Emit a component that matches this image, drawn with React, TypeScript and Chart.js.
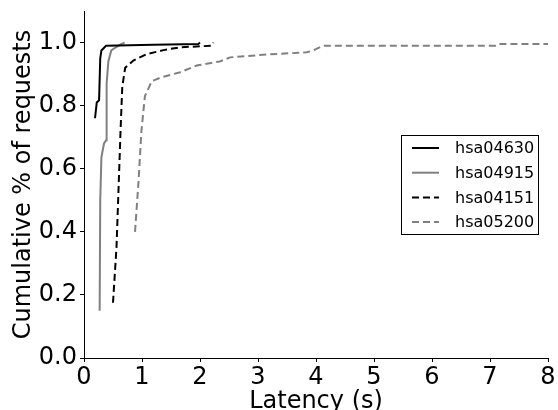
import React, { useEffect, useRef } from "react";
import { Chart, registerables } from "chart.js";

Chart.register(...registerables);

const seriesNames = ["hsa04630", "hsa04915", "hsa04151", "hsa05200"];

const hsa04630X = [0.19, 0.22, 0.26, 0.28, 0.3, 0.38, 1.2, 1.97, 2.0];
const hsa04630Y = [0.76, 0.81, 0.817, 0.95, 0.975, 0.99, 0.993, 0.995, 1.0];

const hsa04915X = [0.27, 0.28, 0.3, 0.345, 0.38, 0.39, 0.42, 0.47, 0.55, 0.64, 0.7];
const hsa04915Y = [0.15, 0.5, 0.636, 0.68, 0.69, 0.87, 0.94, 0.975, 0.985, 0.995, 1.0];

const hsa04151X = [0.5, 0.56, 0.6, 0.63, 0.66, 0.71, 0.85, 1.08, 1.37, 1.66, 2.0, 2.2, 2.23];
const hsa04151Y = [0.175, 0.35, 0.56, 0.72, 0.86, 0.92, 0.943, 0.963, 0.976, 0.985, 0.988, 0.99, 1.0];

const hsa05200X = [0.88, 0.94, 0.99, 1.05, 1.17, 1.34, 1.66, 1.94, 2.34, 2.52, 3.15, 3.84, 3.95, 4.12, 7.1, 7.15, 8.0];
const hsa05200Y = [0.4, 0.56, 0.72, 0.83, 0.878, 0.89, 0.906, 0.927, 0.94, 0.953, 0.962, 0.969, 0.975, 0.99, 0.99, 0.995, 0.995];

const xTicks = [0, 1, 2, 3, 4, 5, 6, 7, 8];
const yTicks = [0, 0.2, 0.4, 0.6, 0.8, 1.0];

const FONT = "'DejaVu Sans', sans-serif";

function pts(xs: number[], ys: number[]) {
  return xs.map((x, i) => ({ x, y: ys[i] }));
}

const legendPlugin = {
  id: "boxLegend",
  afterDraw(chart: any) {
    const ctx = chart.ctx;
    const left = 401.5, top = 135.5, w = 137, h = 99;
    ctx.save();
    ctx.fillStyle = "#fff";
    ctx.fillRect(left, top, w, h);
    ctx.strokeStyle = "#000";
    ctx.lineWidth = 1;
    ctx.strokeRect(left, top, w, h);
    ctx.font = `16px ${FONT}`;
    ctx.textBaseline = "middle";
    ctx.textAlign = "left";
    chart.data.datasets.forEach((ds: any, i: number) => {
      const y = 148 + i * 24.7;
      ctx.beginPath();
      ctx.strokeStyle = ds.borderColor;
      ctx.lineWidth = ds.borderWidth;
      ctx.setLineDash(ds.borderDash || []);
      ctx.moveTo(412, y);
      ctx.lineTo(439, y);
      ctx.stroke();
      ctx.setLineDash([]);
      ctx.fillStyle = "#000";
      ctx.fillText(ds.label, 455, y + 1);
    });
    ctx.restore();
  },
};

export default function App() {
  const ref = useRef<HTMLCanvasElement | null>(null);
  useEffect(() => {
    document.body.style.margin = "0";
    if (!ref.current) return;
    const styles = [
      { color: "#000000", dash: [] as number[] },
      { color: "#808080", dash: [] as number[] },
      { color: "#000000", dash: [7, 4] },
      { color: "#808080", dash: [7, 4] },
    ];
    const data = [
      pts(hsa04630X, hsa04630Y),
      pts(hsa04915X, hsa04915Y),
      pts(hsa04151X, hsa04151Y),
      pts(hsa05200X, hsa05200Y),
    ];
    const chart = new Chart(ref.current, {
      type: "line",
      data: {
        datasets: seriesNames.map((name, i) => ({
          label: name,
          data: data[i],
          borderColor: styles[i].color,
          backgroundColor: styles[i].color,
          borderWidth: 2,
          borderDash: styles[i].dash,
          pointRadius: 0,
          tension: 0,
          fill: false,
        })),
      },
      options: {
        responsive: false,
        animation: false,
        layout: { padding: { top: 11, right: 10, left: 0, bottom: 0 } },
        plugins: { legend: { display: false }, tooltip: { enabled: false } },
        scales: {
          x: {
            type: "linear",
            min: 0,
            max: 8,
            afterBuildTicks: (s: any) => {
              s.ticks = xTicks.map((v) => ({ value: v }));
            },
            afterFit: (s: any) => {
              s.height = 52;
              s.paddingLeft = 0;
              s.paddingRight = 0;
            },
            ticks: {
              color: "#000",
              font: { family: FONT, size: 24 },
              padding: 1,
              maxRotation: 0,
              autoSkip: false,
              callback: (v: any) => String(v),
            },
            grid: { display: true, drawOnChartArea: false, drawTicks: true, tickLength: 4, color: "#000" },
            border: { display: true, color: "#000", width: 1 },
            title: {
              display: true,
              text: "Latency (s)",
              color: "#000",
              font: { family: FONT, size: 24 },
              padding: { top: 0, bottom: -6 },
            },
          },
          y: {
            type: "linear",
            min: 0,
            max: 1.1,
            afterBuildTicks: (s: any) => {
              s.ticks = yTicks.map((v) => ({ value: v }));
            },
            afterFit: (s: any) => {
              s.width = 84;
              s.paddingTop = 0;
              s.paddingBottom = 0;
            },
            ticks: {
              color: "#000",
              font: { family: FONT, size: 24 },
              padding: 3,
              callback: (v: any) => Number(v).toFixed(1),
            },
            grid: { display: true, drawOnChartArea: false, drawTicks: true, tickLength: 4, color: "#000" },
            border: { display: true, color: "#000", width: 1 },
            title: {
              display: true,
              text: "Cumulative % of requests",
              color: "#000",
              font: { family: FONT, size: 24 },
              padding: { top: 9, bottom: 0 },
            },
          },
        },
      },
      plugins: [legendPlugin],
    });
    return () => chart.destroy();
  }, []);
  return (
    <div style={{ position: "absolute", left: 0, top: 0, width: 558, height: 410 }}>
      <canvas ref={ref} width={558} height={410} style={{ display: "block" }} />
    </div>
  );
}
